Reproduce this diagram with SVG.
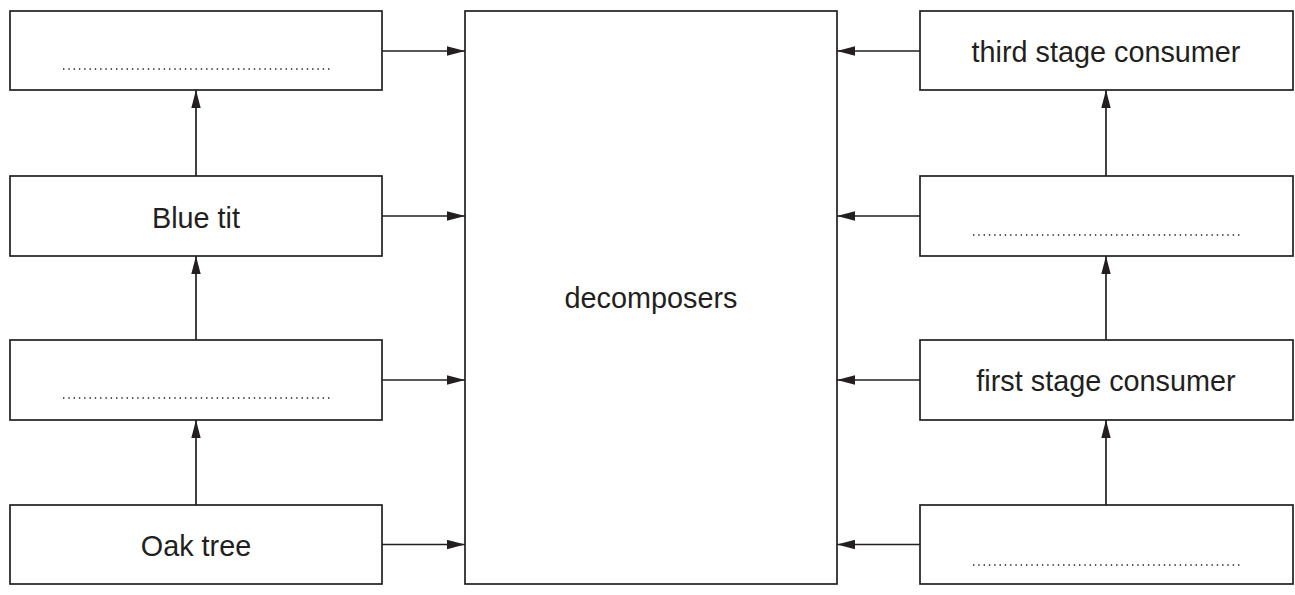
<svg xmlns="http://www.w3.org/2000/svg" width="1295" height="595" viewBox="0 0 1295 595">
<style>
.box{fill:#fff;stroke:#231f20;stroke-width:1.7}
.lbl{font-family:"Liberation Sans",Arial,sans-serif;font-size:28.8px;fill:#231f20;text-anchor:middle}
.dots{stroke:#231f20;stroke-width:1.5;stroke-dasharray:1.4 3.9;fill:none}
.conn line{stroke:#231f20;stroke-width:1.7;marker-end:url(#ah)}
</style>
<defs>
<marker id="ah" markerUnits="userSpaceOnUse" markerWidth="18" markerHeight="10" viewBox="0 0 18 10" refX="18" refY="5" orient="auto">
<path d="M0,0.3 L18,5 L0,9.7 Z" fill="#231f20"/>
</marker>
</defs>
<g id="decomposers"><rect class="box" x="465" y="11" width="372" height="573"/><text class="lbl" x="651" y="308">decomposers</text></g>
<g id="left1"><rect class="box" x="10" y="11" width="372" height="79"/><line class="dots" x1="63" y1="69" x2="330" y2="69"/></g>
<g id="left2"><rect class="box" x="10" y="176" width="372" height="80"/><text class="lbl" x="196" y="227.5">Blue tit</text></g>
<g id="left3"><rect class="box" x="10" y="340" width="372" height="80"/><line class="dots" x1="63" y1="398" x2="330" y2="398"/></g>
<g id="left4"><rect class="box" x="10" y="505" width="372" height="79"/><text class="lbl" x="196" y="555.5">Oak tree</text></g>
<g id="right1"><rect class="box" x="920" y="11" width="373" height="79"/><text class="lbl" x="1106" y="62">third stage consumer</text></g>
<g id="right2"><rect class="box" x="920" y="176" width="373" height="80"/><line class="dots" x1="973" y1="235" x2="1240" y2="235"/></g>
<g id="right3"><rect class="box" x="920" y="340" width="373" height="80"/><text class="lbl" x="1106" y="391">first stage consumer</text></g>
<g id="right4"><rect class="box" x="920" y="505" width="373" height="79"/><line class="dots" x1="973" y1="565" x2="1240" y2="565"/></g>
<g id="connectors" class="conn">
<line x1="382" y1="51" x2="465" y2="51"/>
<line x1="382" y1="216" x2="465" y2="216"/>
<line x1="382" y1="380" x2="465" y2="380"/>
<line x1="382" y1="544.5" x2="465" y2="544.5"/>
<line x1="920" y1="51" x2="837" y2="51"/>
<line x1="920" y1="216" x2="837" y2="216"/>
<line x1="920" y1="380" x2="837" y2="380"/>
<line x1="920" y1="544.5" x2="837" y2="544.5"/>
<line x1="196" y1="176" x2="196" y2="90"/>
<line x1="196" y1="340" x2="196" y2="256"/>
<line x1="196" y1="505" x2="196" y2="420"/>
<line x1="1106" y1="176" x2="1106" y2="90"/>
<line x1="1106" y1="340" x2="1106" y2="256"/>
<line x1="1106" y1="505" x2="1106" y2="420"/>
</g>
</svg>
